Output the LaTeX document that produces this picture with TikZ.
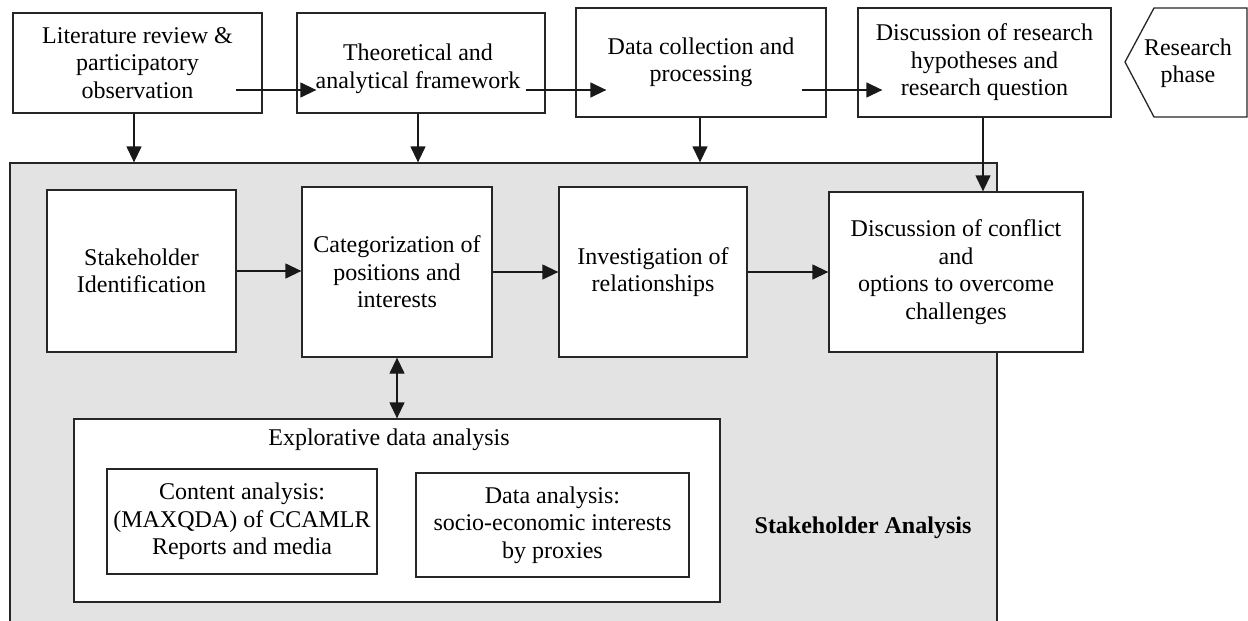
\documentclass[tikz,border=0pt]{standalone}
\usepackage{fontspec}
\setmainfont{Liberation Serif}
\usetikzlibrary{arrows.meta,calc}

\begin{document}
\begin{tikzpicture}[x=1pt,y=-1pt,
  txt/.style={align=center,inner sep=0pt,font=\fontsize{24}{27.5}\selectfont},
  box/.style={txt,draw=black!85,line width=1.3pt,fill=white},
  tip/.tip={Triangle[length=16pt,width=15pt]},
  arr/.style={line width=1.3pt,draw=black!90,-tip},
  darr/.style={line width=1.3pt,draw=black!90,tip-tip}
]
\useasboundingbox (0,0) rectangle (1248,621);
\fill[white] (0,0) rectangle (1248,621);

% stakeholder analysis frame
\node[draw=black!85,line width=1.3pt,fill=black!11,minimum width=987pt,minimum height=462pt,inner sep=0pt]
  (sa) at (503.5,394) {};

% research phase row
\node[box,minimum width=249pt,minimum height=100pt] (b1) at (137.5,63)
  {Literature review \&\\participatory\\observation};
\node[box,minimum width=248pt,minimum height=100pt] (b2) at (421,63) {};
\node[txt] (b2t) at (418,69) {Theoretical and\\analytical framework};
\node[box,minimum width=250pt,minimum height=109pt] (b3) at (701,62.5)
  {Data collection and\\processing};
\node[box,minimum width=253pt,minimum height=109pt] (b4) at (984.5,62.5)
  {Discussion of research\\hypotheses and\\research question};

\coordinate (rpL) at (1125,62);
\draw[draw=black!85,line width=1.3pt,fill=white]
  (rpL) -- (1154,8) -- (1247,8) -- (1247,117) -- (1154,117) -- cycle;
\node[txt] (rp) at (1188,63) {Research\\phase};

% stakeholder analysis steps
\node[box,minimum width=189pt,minimum height=162pt] (si) at (141.5,271)
  {Stakeholder\\Identification};
\node[box,minimum width=190pt,minimum height=170pt] (cat) at (397,272)
  {Categorization of\\positions and\\interests};
\node[box,minimum width=188pt,minimum height=170pt] (inv) at (653,272)
  {Investigation of\\relationships};
\node[box,minimum width=254pt,minimum height=160pt] (disc) at (956,272)
  {Discussion of conflict\\and\\options to overcome\\challenges};

% explorative data analysis
\node[box,minimum width=646pt,minimum height=183pt] (exp) at (397,510.5) {};
\node[txt] (expt) at (389,440) {Explorative data analysis};
\node[box,minimum width=270pt,minimum height=105pt] (ca) at (242,521.5)
  {Content analysis:\\(MAXQDA) of CCAMLR\\Reports and media};
\node[box,minimum width=273pt,minimum height=104pt] (da) at (552.5,525)
  {Data analysis:\\socio-economic interests\\by proxies};

\node[txt,font=\fontsize{24}{27.5}\selectfont\bfseries] (sal) at (863,528) {Stakeholder Analysis};

% connectors along the research phase
\draw[arr] ([shift={(-27,27)}]b1.east) -- ([shift={(20,27)}]b2.west);
\draw[arr] ([shift={(-20,27)}]b2.east) -- ([shift={(31,27.5)}]b3.west);
\draw[arr] ([shift={(-25,27.5)}]b3.east) -- ([shift={(25,27.5)}]b4.west);

% phases feeding the analysis
\draw[arr] ([xshift=-3.5pt]b1.south) -- ([xshift=-3.5pt]b1.south |- sa.north);
\draw[arr] ([xshift=-3pt]b2.south) -- ([xshift=-3pt]b2.south |- sa.north);
\draw[arr] ([xshift=-1pt]b3.south) -- ([xshift=-1pt]b3.south |- sa.north);
\draw[arr] ([xshift=-1.5pt]b4.south) -- ([xshift=-1.5pt]b4.south |- disc.north);

% analysis sequence
\draw[arr] (si.east) -- (si.east -| cat.west);
\draw[arr] (cat.east) -- (cat.east -| inv.west);
\draw[arr] (inv.east) -- (inv.east -| disc.west);
\draw[darr] (cat.south) -- (cat.south |- exp.north);
\end{tikzpicture}
\end{document}
